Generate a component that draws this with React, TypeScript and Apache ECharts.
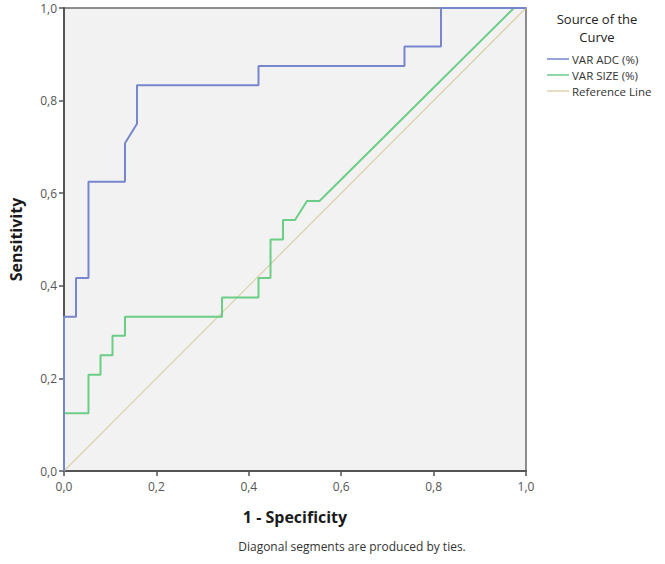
import React, { useEffect, useRef } from "react";
import * as echarts from "echarts";

const adcFpr = [0, 0, 0.026, 0.026, 0.053, 0.053, 0.132, 0.132, 0.158, 0.158, 0.421, 0.421, 0.737, 0.737, 0.816, 0.816, 1.0];
const adcTpr = [0, 0.333, 0.333, 0.417, 0.417, 0.625, 0.625, 0.708, 0.75, 0.833, 0.833, 0.875, 0.875, 0.917, 0.917, 1.0, 1.0];

const sizeFpr = [0, 0, 0.053, 0.053, 0.079, 0.079, 0.105, 0.105, 0.132, 0.132, 0.342, 0.342, 0.421, 0.421, 0.447, 0.447, 0.474, 0.474, 0.5, 0.526, 0.553, 0.974, 1.0];
const sizeTpr = [0, 0.125, 0.125, 0.208, 0.208, 0.25, 0.25, 0.292, 0.292, 0.333, 0.333, 0.375, 0.375, 0.417, 0.417, 0.5, 0.5, 0.542, 0.542, 0.583, 0.583, 1.0, 1.0];

const refFpr = [0, 1];
const refTpr = [0, 1];

const xTicks = [0, 0.2, 0.4, 0.6, 0.8, 1.0];

const seriesNames = ["VAR ADC (%)", "VAR SIZE (%)", "Reference Line"];
const seriesColors = ["#7787cd", "#6bcd86", "#dcd3ae"];

const FONT = "'Open Sans', 'DejaVu Sans', sans-serif";

function zip(xs: number[], ys: number[]) {
  return xs.map((x, i) => [x, ys[i]]);
}

export default function App() {
  const ref = useRef<HTMLDivElement>(null);
  useEffect(() => {
    if (!ref.current) return;
    const chart = echarts.init(ref.current, undefined, { renderer: "svg" });
    const fmt = (v: number) => v.toFixed(1).replace(".", ",");
    chart.setOption({
      animation: false,
      backgroundColor: "#ffffff",
      textStyle: { fontFamily: FONT },
      grid: {
        left: 60,
        top: 8,
        width: 466,
        height: 463,
        show: true,
        backgroundColor: "#f2f2f2",
        borderColor: "#6a6a6a",
        borderWidth: 1.5,
      },
      xAxis: {
        type: "value",
        min: xTicks[0],
        max: xTicks[xTicks.length - 1],
        interval: 0.2,
        name: "1 - Specificity",
        nameLocation: "middle",
        nameGap: 38,
        nameTextStyle: { fontSize: 16, fontWeight: "bold", color: "#1a1a1a", fontFamily: FONT },
        axisLine: { show: true, lineStyle: { color: "#555", width: 2 } },
        axisTick: { show: true, length: 5, lineStyle: { color: "#555", width: 1.5 } },
        axisLabel: { formatter: fmt, color: "#555", fontSize: 12, margin: 9, fontFamily: FONT },
        splitLine: { show: false },
      },
      yAxis: {
        type: "value",
        min: 0,
        max: 1,
        interval: 0.2,
        name: "Sensitivity",
        nameLocation: "middle",
        nameGap: 40,
        nameTextStyle: { fontSize: 16, fontWeight: "bold", color: "#1a1a1a", fontFamily: FONT },
        axisLine: { show: true, lineStyle: { color: "#555", width: 2 } },
        axisTick: { show: true, length: 5, lineStyle: { color: "#555", width: 1.5 } },
        axisLabel: { formatter: fmt, color: "#555", fontSize: 12, margin: 7, fontFamily: FONT },
        splitLine: { show: false },
      },
      legend: {
        orient: "vertical",
        left: 542,
        top: 48,
        icon: "rect",
        itemWidth: 22,
        itemHeight: 1.5,
        itemGap: 4,
        data: seriesNames,
        textStyle: { fontSize: 11.5, color: "#333", fontFamily: FONT, padding: [0, 0, 0, -2] },
      },
      graphic: [
        {
          type: "text",
          x: 597,
          y: 10,
          style: {
            text: "Source of the\nCurve",
            fontSize: 13,
            lineHeight: 18,
            fill: "#222",
            align: "center",
            fontFamily: FONT,
          },
        },
        {
          type: "text",
          x: 352,
          y: 540,
          style: {
            text: "Diagonal segments are produced by ties.",
            fontSize: 12,
            fill: "#333",
            align: "center",
            fontFamily: FONT,
          },
        },
      ],
      series: [
        {
          name: seriesNames[2],
          type: "line",
          data: zip(refFpr, refTpr),
          showSymbol: false,
          lineStyle: { color: seriesColors[2], width: 1.3 },
          itemStyle: { color: seriesColors[2] },
          z: 1,
        },
        {
          name: seriesNames[0],
          type: "line",
          data: zip(adcFpr, adcTpr),
          showSymbol: false,
          lineStyle: { color: seriesColors[0], width: 2 },
          itemStyle: { color: seriesColors[0] },
          z: 3,
        },
        {
          name: seriesNames[1],
          type: "line",
          data: zip(sizeFpr, sizeTpr),
          showSymbol: false,
          lineStyle: { color: seriesColors[1], width: 2 },
          itemStyle: { color: seriesColors[1] },
          z: 2,
        },
      ],
    });
    return () => chart.dispose();
  }, []);
  return (
    <div
      ref={ref}
      style={{ position: "fixed", left: 0, top: 0, width: 665, height: 564 }}
    />
  );
}
